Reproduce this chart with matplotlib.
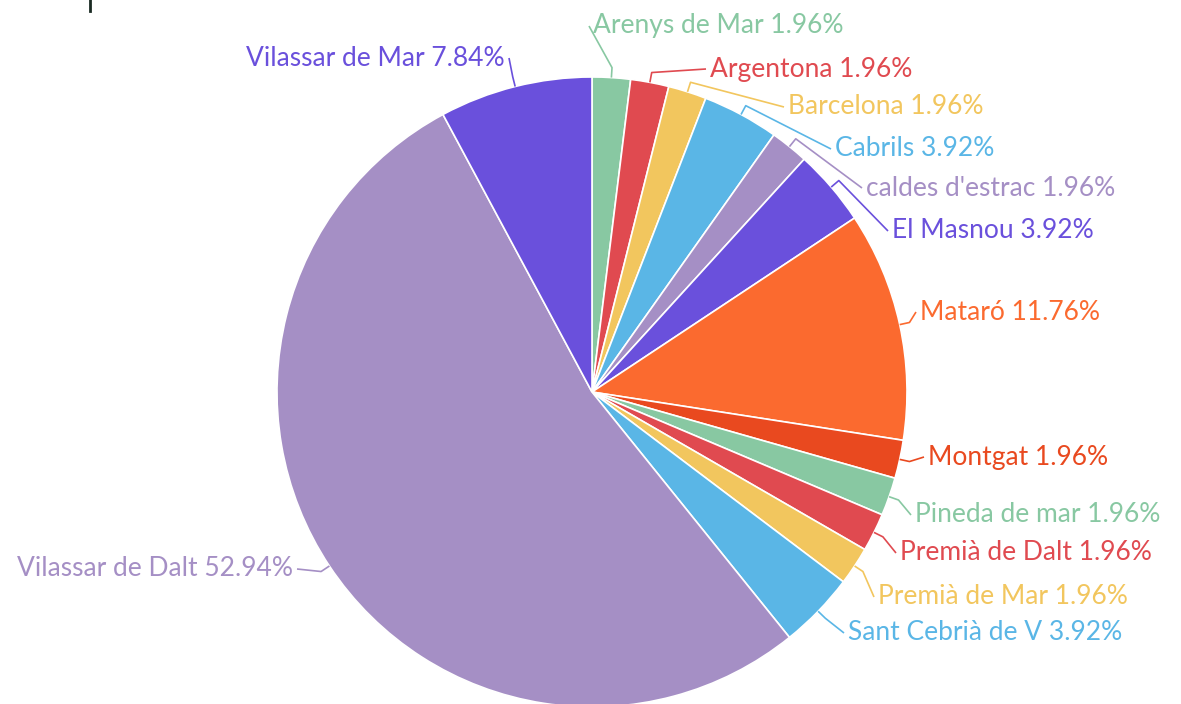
import numpy as np
import matplotlib
matplotlib.use("Agg")
import matplotlib.pyplot as plt

plt.rcParams['font.family'] = ['Lato', 'DejaVu Sans']

towns = ['Arenys de Mar', 'Argentona', 'Barcelona', 'Cabrils', "caldes d'estrac",
         'El Masnou', 'Mataró', 'Montgat', 'Pineda de mar', 'Premià de Dalt',
         'Premià de Mar', 'Sant Cebrià de V', 'Vilassar de Dalt', 'Vilassar de Mar']
counts = [1, 1, 1, 2, 1, 2, 6, 1, 1, 1, 1, 2, 27, 4]
colors = ['#88c8a2', '#e04a50', '#f2c65e', '#5ab6e6', '#a58fc5', '#6a50dc',
          '#fb6a2f', '#e9491f', '#88c8a2', '#e04a50', '#f2c65e', '#5ab6e6',
          '#a58fc5', '#6a50dc']

# label text anchors in image pixels (left/right edge, vertical centre)
label_pos = [(593, 26), (710, 69), (788, 107), (835, 149), (866, 188),
             (892, 231), (920, 312), (928, 457), (915, 515), (900, 553),
             (878, 597), (848, 633), (293, 569), (505, 58)]

W, H = 1181, 704
cx, cy, R = 592, 392, 315

fig = plt.figure(figsize=(W / 100, H / 100), dpi=100)
ax = fig.add_axes([0, 0, 1, 1])

wedges, _ = ax.pie(counts, colors=colors, startangle=90, counterclock=False,
                   center=(cx, H - cy), radius=R,
                   wedgeprops=dict(edgecolor='white', linewidth=1.2))
ax.set_xlim(0, W)
ax.set_ylim(0, H)
ax.set_aspect('equal')
ax.axis('off')

total = sum(counts)
for w, name, n, col, (tx, ty) in zip(wedges, towns, counts, colors, label_pos):
    ang = np.deg2rad((w.theta1 + w.theta2) / 2)
    x0 = cx + R * np.cos(ang)
    y0 = (H - cy) + R * np.sin(ang)
    x1 = cx + (R + 10) * np.cos(ang)
    y1 = (H - cy) + (R + 10) * np.sin(ang)
    left = tx < cx
    ex = tx + 4 if left else tx - 4
    ax.plot([x0, x1, ex], [y0, y1, H - ty], color=col, lw=1.2,
            solid_capstyle='butt')
    ax.text(tx, H - ty, f'{name} {100 * n / total:.2f}%', color=col,
            fontsize=19, va='center', ha='right' if left else 'left')

ax.plot([90, 90], [H, H - 11], color='#1a2a22', lw=2)

fig.savefig('out.png', dpi=100)
